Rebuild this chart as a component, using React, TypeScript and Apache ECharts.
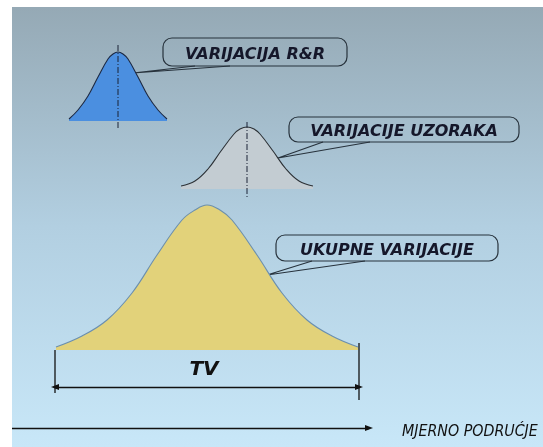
import React, { useEffect, useRef } from 'react';
import * as echarts from 'echarts';

const rrX = [69, 78, 88, 98, 108, 113, 118, 123, 128, 138, 148, 158, 167];
const rrH = [2, 11, 25, 44, 62, 67, 69, 67, 62, 44, 25, 11, 2];
const pvX = [181, 195, 208, 221, 234, 240, 247, 254, 260, 273, 286, 299, 313];
const pvH = [3, 8, 20, 38, 55, 60, 62, 60, 55, 38, 20, 8, 3];
const tvX = [56, 82, 107, 132, 157, 182, 195, 207, 220, 232, 257, 282, 307, 332, 358];
const tvH = [3, 14, 30, 57, 95, 130, 140, 145, 140, 130, 95, 57, 30, 14, 3];

const calloutLabels = ['VARIJACIJA R&R', 'VARIJACIJE UZORAKA', 'UKUPNE VARIJACIJE'];
const tvLabel = 'TV';
const axisTitle = 'MJERNO PODRUĆJE';

// ---- layout (pixel frame 543 x 447) ----
const W = 543;
const H = 447;
const yv = (py: number) => H - py; // pixel row -> main-axis value
const baselines = [121, 189, 350]; // pixel rows of curve bases (R&R, PV, TV)

function bell(name: string, idx: number, xs: number[], hs: number[], fill: string, stroke: string) {
  return {
    name,
    type: 'line',
    xAxisIndex: idx,
    yAxisIndex: idx,
    data: xs.map((x, i) => [x, hs[i]]),
    smooth: 0.4,
    symbol: 'none',
    lineStyle: { color: stroke, width: 1.1 },
    areaStyle: { color: fill, opacity: 1, origin: 'start' },
    silent: true,
    z: 3,
  };
}

function seg(x1: number, y1: number, x2: number, y2: number, color: string, type: any, width = 1.2) {
  return {
    type: 'line',
    xAxisIndex: 0,
    yAxisIndex: 0,
    data: [
      [x1, yv(y1)],
      [x2, yv(y2)],
    ],
    symbol: 'none',
    lineStyle: { color, width, type },
    silent: true,
    z: 4,
  };
}

function callout(
  bx: number, by: number, bw: number, bh: number,
  tip: [number, number], b1: number, b2: number, text: string
) {
  const stroke = '#27323c';
  return {
    type: 'group',
    z: 10,
    children: [
      {
        type: 'rect',
        shape: { x: bx, y: by, width: bw, height: bh, r: 9 },
        style: { fill: 'none', stroke, lineWidth: 1.2 },
      },
      {
        type: 'polyline',
        shape: { points: [[b1, by + bh], tip, [b2, by + bh]] },
        style: { fill: 'none', stroke, lineWidth: 1.2 },
      },
      {
        type: 'text',
        x: bx + bw / 2,
        y: by + bh / 2 + 1,
        style: {
          text,
          fill: '#15172a',
          font: 'italic bold 16px "DejaVu Sans", sans-serif',
          align: 'center',
          verticalAlign: 'middle',
        },
      },
    ],
  };
}

export default function App() {
  const ref = useRef<HTMLDivElement>(null);
  useEffect(() => {
    if (!ref.current) return;
    const chart = echarts.init(ref.current, undefined, { renderer: 'svg' });
    const arrowLine = {
      silent: true,
      label: { show: false },
      emphasis: { disabled: true },
      lineStyle: { color: '#111', width: 1.3, type: 'solid' },
    };
    const grids = [
      { left: 0, right: 0, top: 0, bottom: 0 },
      ...baselines.map((b) => ({ left: 0, right: 0, top: 0, height: b })),
    ];
    chart.setOption({
      animation: false,
      grid: grids,
      xAxis: grids.map((_, i) => ({ type: 'value', min: 0, max: W, show: false, gridIndex: i })),
      yAxis: [
        { type: 'value', min: 0, max: H, show: false, gridIndex: 0 },
        ...baselines.map((b, i) => ({ type: 'value', min: 0, max: b, show: false, gridIndex: i + 1 })),
      ],
      series: [
        bell('R&R', 1, rrX, rrH, '#4b8fe0', '#1d2942'),
        bell('PV', 2, pvX, pvH, '#c3ccd2', '#2c3136'),
        bell('TV', 3, tvX, tvH, '#e2d27a', '#6b8fae'),
        seg(118, 45, 118, 128, '#1b2236', [6, 2, 1, 2], 1),
        seg(247, 122, 247, 197, '#1b2236', [6, 2, 1, 2], 1),
        {
          ...seg(55, 350, 55, 393, '#111', 'solid', 1.3),
          markLine: {
            ...arrowLine,
            symbol: ['triangle', 'triangle'],
            symbolSize: [6, 8],
            data: [[{ coord: [55, yv(387)] }, { coord: [359, yv(387)] }]],
          },
        },
        {
          ...seg(359, 343, 359, 400, '#111', 'solid', 1.3),
          markLine: {
            ...arrowLine,
            symbol: ['none', 'triangle'],
            symbolSize: [6, 8],
            data: [[{ coord: [12, yv(428)] }, { coord: [369, yv(428)] }]],
          },
        },
      ],
      graphic: [
        {
          type: 'rect',
          z: -10,
          silent: true,
          shape: { x: 12, y: 7, width: W - 12, height: H - 7 },
          style: {
            fill: new echarts.graphic.LinearGradient(0, 0, 0, 1, [
              { offset: 0, color: '#95a9b5' },
              { offset: 0.5, color: '#b2cfe1' },
              { offset: 1, color: '#c8e7f8' },
            ]),
          },
        },
        callout(163, 38, 184, 28, [133, 73], 195, 230, calloutLabels[0]),
        callout(289, 117, 230, 25, [278, 158], 323, 370, calloutLabels[1]),
        callout(276, 235, 222, 26, [267, 275], 312, 365, calloutLabels[2]),
        {
          type: 'text',
          z: 10,
          x: 204,
          y: 368,
          style: {
            text: tvLabel,
            fill: '#111',
            font: 'italic bold 20px "DejaVu Sans", sans-serif',
            align: 'center',
            verticalAlign: 'middle',
          },
        },
        {
          type: 'text',
          z: 10,
          x: 402,
          y: 431,
          scaleX: 0.89,
          style: {
            text: axisTitle,
            fill: '#111',
            font: 'italic 16px "DejaVu Sans", sans-serif',
            align: 'left',
            verticalAlign: 'middle',
          },
        },
      ],
    });
    return () => chart.dispose();
  }, []);
  return <div ref={ref} style={{ position: 'fixed', left: 0, top: 0, width: W, height: H }} />;
}
